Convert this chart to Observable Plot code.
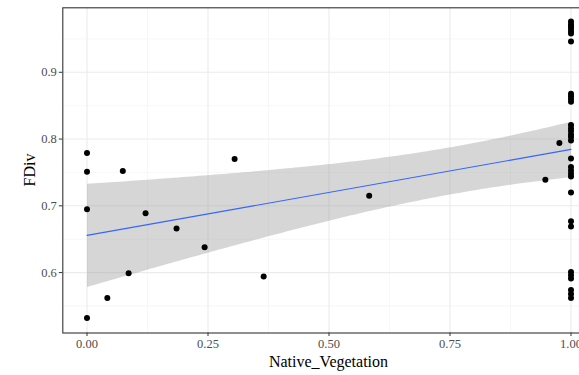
<!DOCTYPE html>
<html>
<head>
<meta charset="utf-8">
<script src="https://cdn.jsdelivr.net/npm/d3@7"></script>
<script src="https://cdn.jsdelivr.net/npm/@observablehq/plot@0.6"></script>
<style>
  html, body { margin: 0; padding: 0; background: white; overflow: hidden; }
  #chart svg { overflow: hidden; display: block; }
</style>
</head>
<body>
<div id="chart"></div>
<script>
// Native vegetation proportion (x) and functional divergence FDiv (y)
const nativeVegetation = [
  0, 0, 0, 0,
  0.042, 0.074, 0.086, 0.121, 0.185, 0.243, 0.305, 0.365, 0.583, 0.947, 0.976,
  1, 1, 1, 1, 1, 1, 1,
  1, 1, 1, 1,
  1, 1, 1, 1, 1, 1,
  1, 1, 1, 1, 1, 1,
  1, 1,
  1, 1, 1, 1, 1, 1
];
const fdiv = [
  0.779, 0.751, 0.695, 0.532,
  0.562, 0.752, 0.599, 0.689, 0.666, 0.638, 0.770, 0.594, 0.715, 0.739, 0.794,
  0.976, 0.972, 0.969, 0.966, 0.962, 0.958, 0.946,
  0.868, 0.864, 0.860, 0.856,
  0.821, 0.816, 0.812, 0.807, 0.803, 0.798,
  0.771, 0.758, 0.753, 0.748, 0.744, 0.720,
  0.677, 0.669,
  0.601, 0.596, 0.591, 0.574, 0.568, 0.562
];
const xMajor = [0, 0.25, 0.5, 0.75, 1];
const xMinor = [0.125, 0.375, 0.625, 0.875];
const yMajor = [0.6, 0.7, 0.8, 0.9];
const yMinor = [0.55, 0.65, 0.75, 0.85, 0.95];
const xLabel = "Native_Vegetation";
const yLabel = "FDiv";

const data = nativeVegetation.map((x, i) => ({x, y: fdiv[i]}));

const font = "'Liberation Serif', 'Times New Roman', serif";

const chart = Plot.plot({
  width: 579,
  height: 375,
  marginLeft: 62.3,
  marginRight: -15.7,
  marginTop: 7.3,
  marginBottom: 42.5,
  style: {fontFamily: font, background: "white"},
  x: {domain: [-0.05, 1.05]},
  y: {domain: [0.5095, 0.9966]},
  marks: [
    Plot.ruleX(xMinor, {stroke: "#f2f2f2", strokeWidth: 0.6}),
    Plot.ruleY(yMinor, {stroke: "#f2f2f2", strokeWidth: 0.6}),
    Plot.ruleX(xMajor, {stroke: "#ebebeb", strokeWidth: 1.1}),
    Plot.ruleY(yMajor, {stroke: "#ebebeb", strokeWidth: 1.1}),
    Plot.linearRegressionY(data, {x: "x", y: "y", stroke: "#3366FF", strokeWidth: 1.1, fill: "#999999", fillOpacity: 0.4}),
    Plot.dot(data, {x: "x", y: "y", r: 3, fill: "black", stroke: "none"}),
    Plot.frame({stroke: "#333333", strokeWidth: 1.1}),
    Plot.axisX({ticks: xMajor, tickFormat: d3.format(".2f"), tickSize: 3.5, tickPadding: 3, stroke: "#333333", fill: "#4d4d4d", fontSize: 12.5, label: null}),
    Plot.axisY({ticks: yMajor, tickFormat: d3.format(".1f"), tickSize: 3.5, tickPadding: 2.5, stroke: "#333333", fill: "#4d4d4d", fontSize: 12.5, label: null})
  ]
});

const svg = d3.select(chart);
// x-axis title
svg.append("text")
  .attr("x", 328.5)
  .attr("y", 367)
  .attr("text-anchor", "middle")
  .attr("font-family", font)
  .attr("font-size", 16)
  .attr("fill", "black")
  .text(xLabel);
// y-axis title
svg.append("text")
  .attr("transform", "translate(31,170) rotate(-90)")
  .attr("text-anchor", "middle")
  .attr("dominant-baseline", "middle")
  .attr("font-family", font)
  .attr("font-size", 16)
  .attr("fill", "black")
  .text(yLabel);

document.getElementById("chart").appendChild(chart);
</script>
</body>
</html>
